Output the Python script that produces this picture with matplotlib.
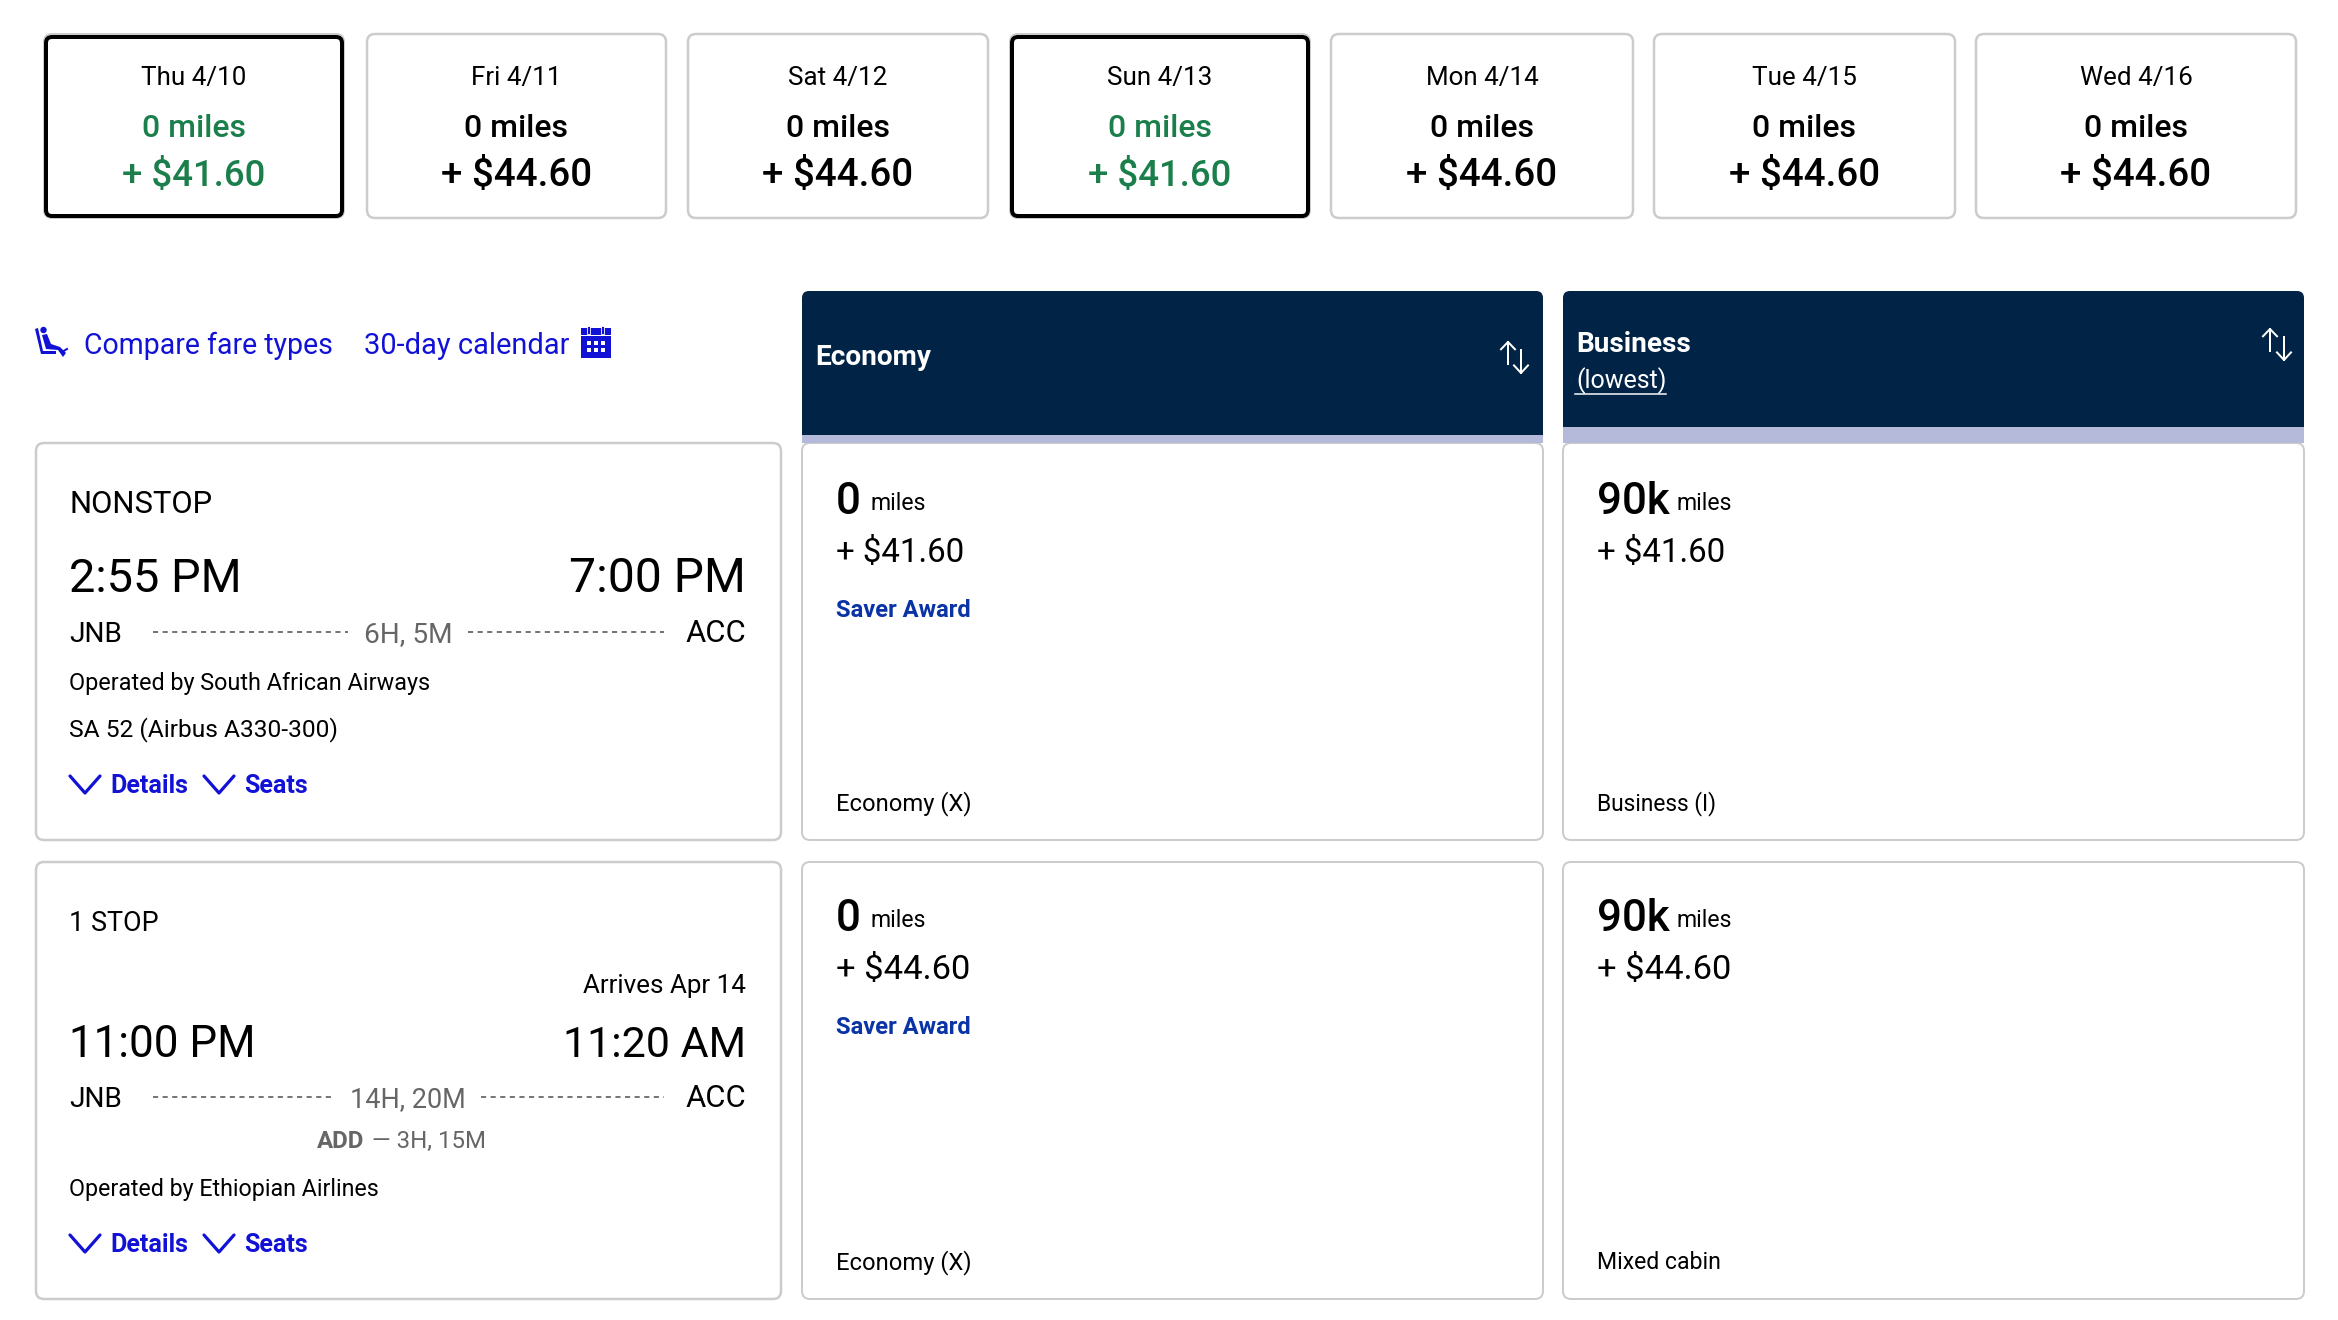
import matplotlib
matplotlib.use("Agg")
import matplotlib.pyplot as plt
from matplotlib.patches import FancyBboxPatch, Polygon, Rectangle, Circle

plt.rcParams["font.family"] = ["Roboto", "DejaVu Sans"]

# date strip
dates = ["Thu 4/10", "Fri 4/11", "Sat 4/12", "Sun 4/13", "Mon 4/14", "Tue 4/15", "Wed 4/16"]
date_miles = ["0 miles"] * 7
date_fares = ["+ $41.60", "+ $44.60", "+ $44.60", "+ $41.60", "+ $44.60", "+ $44.60", "+ $44.60"]
date_selected = [True, False, False, True, False, False, False]

# fare table
cabins = ["Economy", "Business"]
miles_row1 = ["0", "90k"]
miles_row2 = ["0", "90k"]
cash_row1 = ["+ $41.60", "+ $41.60"]
cash_row2 = ["+ $44.60", "+ $44.60"]
cabin_row1 = ["Economy (X)", "Business (I)"]
cabin_row2 = ["Economy (X)", "Mixed cabin"]

# layout, in pixels of the screenshot
W, H = 2338, 1320
card_x = [(45, 343), (367, 666), (688, 988), (1011, 1309), (1331, 1633), (1654, 1955), (1976, 2296)]
col_x = [(802, 1543), (1563, 2304)]
left_x = (36, 781)
row_y = [(443, 840), (862, 1299)]

BLUE = "#1212D6"
GREEN = "#1B7F4C"
NAVY = "#012345"
LAVENDER = "#B5BADB"
BORDER = "#CCCCCC"
GREY = "#666666"


def px(size):
    return size * 0.72


def box(ax, x0, y0, x1, y1, fc="white", ec=BORDER, lw=2.5, r=8, z=1):
    p = FancyBboxPatch(
        (x0, y0), x1 - x0, y1 - y0,
        boxstyle=f"round,pad=0,rounding_size={r}",
        fc=fc, ec=ec, lw=px(lw), zorder=z,
    )
    ax.add_patch(p)


def label(ax, x, y, s, size, color="black", ha="left", weight="normal"):
    ax.text(x, y, s, fontsize=px(size), color=color, ha=ha, va="baseline", fontweight=weight, zorder=5)


def chevron(ax, x0, x1, y0, y1):
    ax.plot([x0, (x0 + x1) / 2, x1], [y0, y1, y0], color=BLUE, lw=px(3.2), solid_capstyle="round", zorder=5)


def sort_arrows(ax, xu, xd, y0, y1, y2, y3):
    for x, ya, yb in [(xu, y0, y1), (xd, y3, y2)]:
        ax.plot([x, x], [ya, yb], color="white", lw=px(2), zorder=5)
        ax.plot([x - 7, x, x + 7], [ya + (yb - ya) * 0.33, ya, ya + (yb - ya) * 0.33], color="white", lw=px(2), zorder=5)


def dashes(ax, x0, x1, y):
    ax.plot([x0, x1], [y, y], color="#555555", lw=px(1.6), dashes=(3.2, 2.8), zorder=3)


def flight_card(ax, y_top, y_bot, stops, stops_size, dep, dep_size, arr, arr_size, dur, dur_size, seg, lines, y):
    box(ax, left_x[0], y_top, left_x[1], y_bot)
    label(ax, 69, y["stops"], stops, stops_size)
    label(ax, 69, y["time"], dep, dep_size)
    label(ax, 746, y["time"], arr, arr_size, ha="right")
    label(ax, 69, y["code"], "JNB", 28)
    label(ax, 746, y["code"], "ACC", 31, ha="right")
    label(ax, 408, y["code"], dur, dur_size, color=GREY, ha="center")
    dashes(ax, 153, seg[0], y["code"] - 10)
    dashes(ax, seg[1], 664, y["code"] - 10)
    for yy, s, size in lines:
        label(ax, 69, yy, s, size)
    chevron(ax, 70, 100, y["links"] - 17, y["links"])
    label(ax, 110, y["links"], "Details", 25, color=BLUE, weight="bold")
    chevron(ax, 204, 234, y["links"] - 17, y["links"])
    label(ax, 244, y["links"], "Seats", 25, color=BLUE, weight="bold")


def fare_cell(ax, col, y_top, y_bot, miles, cash, cash_size, cabin, cabin_size, off, saver):
    x0, x1 = col_x[col]
    box(ax, x0, y_top, x1, y_bot, lw=2, z=1.6)
    tx = x0 + 34 if col == 0 else x0 + 34
    mx = 871 if col == 0 else 1677
    label(ax, tx, 514 + off, miles, 44, weight="medium")
    label(ax, mx, 510 + off, "miles", 23)
    label(ax, tx, 562 + off, cash, cash_size)
    if saver:
        label(ax, tx, 617 + off, "Saver Award", 23.7, color="#0A33A6", weight="bold")
    label(ax, tx, y_bot - 30, cabin, cabin_size)


fig = plt.figure(figsize=(W / 100, H / 100), dpi=100)
ax = fig.add_axes([0, 0, 1, 1])
ax.set_xlim(0, W)
ax.set_ylim(H, 0)
ax.axis("off")

# date strip
for (x0, x1), d, m, f, sel in zip(card_x, dates, date_miles, date_fares, date_selected):
    cx = (x0 + x1) / 2
    if sel:
        box(ax, x0 - 1, 34, x1 + 1, 218, ec=BORDER, lw=2, r=8)
        box(ax, x0 + 1, 37, x1 - 1, 216, ec="black", lw=4, r=6, z=2)
    else:
        box(ax, x0, 34, x1, 218, lw=2.5)
    color = GREEN if sel else "black"
    label(ax, cx, 85, d, 26, ha="center")
    label(ax, cx, 137, m, 32, color=color, ha="center", weight="medium")
    label(ax, cx, 186, f, 36.5 if sel else 38.5, color=color, ha="center", weight="medium")

# links row
label(ax, 84, 354, "Compare fare types", 28.5, color=BLUE)
label(ax, 364, 354, "30-day calendar", 29, color=BLUE)

# seat icon
ax.add_patch(Polygon([(35, 329), (38, 328), (43, 351), (56, 351), (56, 354), (41, 354)], fc=BLUE, zorder=5))
ax.add_patch(Circle((43.5, 330), 3.2, fc=BLUE, zorder=5))
ax.add_patch(Polygon([(42, 335), (47, 334), (51, 344), (60, 347), (66, 353), (63, 357), (58, 350), (46, 349)], fc=BLUE, zorder=5))
ax.plot([62, 67], [352, 349], color=BLUE, lw=px(2), zorder=5)

# calendar icon
ax.add_patch(Rectangle((581, 328), 30, 6.5, fc=BLUE, zorder=5))
ax.add_patch(Rectangle((581, 336), 30, 22, fc=BLUE, zorder=5))
for rx in [588, 602]:
    ax.add_patch(Rectangle((rx - 1.5, 326), 3, 8, fc=BLUE, ec="white", lw=0.6, zorder=6))
for cy in [341, 348]:
    for cxx in [587, 594, 601]:
        ax.add_patch(Rectangle((cxx, cy), 4, 4, fc="white", zorder=6))

# column headers
box(ax, col_x[0][0], 291, col_x[0][1], 430, fc=NAVY, ec=NAVY, lw=0, r=7)
box(ax, col_x[1][0], 291, col_x[1][1], 420, fc=NAVY, ec=NAVY, lw=0, r=7)
ax.add_patch(Rectangle((col_x[0][0], 410), col_x[0][1] - col_x[0][0], 25, fc=NAVY, zorder=2))
ax.add_patch(Rectangle((col_x[1][0], 410), col_x[1][1] - col_x[1][0], 17, fc=NAVY, zorder=2))
ax.add_patch(Rectangle((col_x[0][0], 435), col_x[0][1] - col_x[0][0], 8, fc=LAVENDER, zorder=2))
ax.add_patch(Rectangle((col_x[1][0], 427), col_x[1][1] - col_x[1][0], 16, fc=LAVENDER, zorder=2))

label(ax, 815, 365, cabins[0], 28, color="white", weight="bold")
label(ax, 1576, 352, cabins[1], 28, color="white", weight="bold")
label(ax, 1576, 388, "(lowest)", 25, color="white")
ax.plot([1575, 1666], [394, 394], color="white", lw=px(1.5), zorder=5)
sort_arrows(ax, 1508, 1521, 342, 364, 350, 373)
sort_arrows(ax, 2270, 2284, 329, 351, 337, 360)

# flight cards
flight_card(
    ax, row_y[0][0], row_y[0][1], "NONSTOP", 31, "2:55 PM", 47, "7:00 PM", 48, "6H, 5M", 28, (348, 468),
    [(690, "Operated by South African Airways", 23.4), (736, "SA 52 (Airbus A330-300)", 24.5)],
    {"stops": 513, "time": 592, "code": 642, "links": 793},
)
flight_card(
    ax, row_y[1][0], row_y[1][1], "1 STOP", 27, "11:00 PM", 44, "11:20 AM", 43, "14H, 20M", 27, (335, 481),
    [(1196, "Operated by Ethiopian Airlines", 23.2)],
    {"stops": 931, "time": 1057, "code": 1107, "links": 1252},
)
label(ax, 746, 993, "Arrives Apr 14", 26, ha="right")
label(ax, 317, 1148, "ADD", 24, color=GREY, weight="bold")
label(ax, 372, 1148, "— 3H, 15M", 24, color=GREY)

# fare cells
cash_sizes_row1 = 33
cash_sizes_row2 = 34.5
cabin_sizes_row1 = [23.7, 22.8]
cabin_sizes_row2 = [23.7, 23]
for c in range(2):
    fare_cell(ax, c, row_y[0][0], row_y[0][1], miles_row1[c], cash_row1[c], cash_sizes_row1, cabin_row1[c], cabin_sizes_row1[c], 0, c == 0)
    fare_cell(ax, c, row_y[1][0], row_y[1][1], miles_row2[c], cash_row2[c], cash_sizes_row2, cabin_row2[c], cabin_sizes_row2[c], 417, c == 0)

fig.savefig("out.png", dpi=100, facecolor="white")
